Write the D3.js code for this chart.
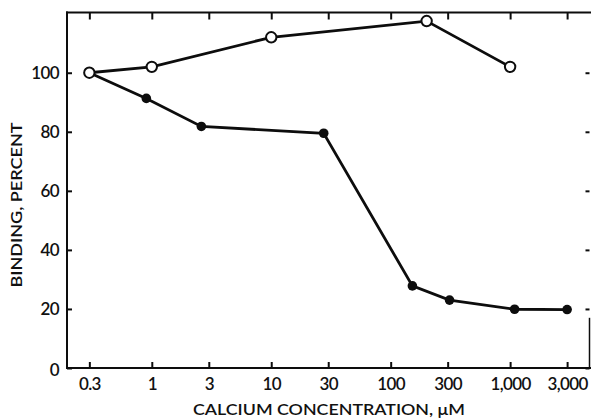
<!DOCTYPE html>
<html>
<head>
<meta charset="utf-8">
<script src="https://cdn.jsdelivr.net/npm/d3@7"></script>
<style>
  html, body { margin: 0; padding: 0; background: #fff; }
  svg text { font-family: Lato, "Noto Sans", sans-serif; fill: #111; font-weight: 600; }
</style>
</head>
<body>
<svg id="chart" width="591" height="419"></svg>
<script>
// Calcium concentration (µM) vs. binding (percent of control)
const openConc   = [0.3, 1, 10, 200, 1000];
const openBind   = [100, 102, 112, 117.5, 102];
const filledConc = [0.3, 0.9, 2.6, 27.5, 152, 311, 1090, 3000];
const filledBind = [100, 91.3, 81.8, 79.5, 27.8, 23, 19.9, 19.8];

const xTickValues = [0.3, 1, 3, 10, 30, 100, 300, 1000, 3000];
const xTickLabels = ["0.3", "1", "3", "10", "30", "100", "300", "1,000", "3,000"];
const yTickValues = [0, 20, 40, 60, 80, 100];

const svg = d3.select("#chart");
const plotLeft = 67, plotRight = 589.5, plotTop = 12.5, plotBottom = 368;

const x = d3.scaleLog().domain([0.195, 4620]).range([plotLeft, plotRight]);
const y = d3.scaleLinear().domain([0, 120.4]).range([plotBottom, plotTop]);

const ink = "#0d0d0d";

// frame with inward ticks on all four sides
const axBottom = svg.append("g").attr("transform", `translate(0,${plotBottom})`)
  .call(d3.axisBottom(x).tickValues(xTickValues).tickFormat((d, i) => xTickLabels[i])
    .tickSizeInner(-6).tickSizeOuter(0).tickPadding(10));
const axTop = svg.append("g").attr("transform", `translate(0,${plotTop})`)
  .call(d3.axisTop(x).tickValues(xTickValues).tickFormat("").tickSizeInner(-7).tickSizeOuter(0));
const axLeft = svg.append("g").attr("transform", `translate(${plotLeft},0)`)
  .call(d3.axisLeft(y).tickValues(yTickValues).tickFormat(d3.format("d"))
    .tickSizeInner(-5).tickSizeOuter(0).tickPadding(8));
const axRight = svg.append("g").attr("transform", `translate(${plotRight},0)`)
  .call(d3.axisRight(y).tickValues(yTickValues).tickFormat("").tickSizeInner(-4).tickSizeOuter(0));

[axBottom, axTop, axLeft, axRight].forEach(g => {
  g.selectAll(".domain").attr("stroke", ink).attr("stroke-width", 2);
  g.selectAll(".tick line").attr("stroke", ink).attr("stroke-width", 2);
  g.selectAll("text").attr("fill", ink);
});
axBottom.selectAll("text").attr("font-size", 17).attr("letter-spacing", -0.6);
axBottom.selectAll(".domain").attr("d", `M${plotLeft - 1},0H${plotRight + 2}`);
axTop.selectAll(".domain").attr("d", `M${plotLeft - 1},0H${plotRight + 2}`);
axLeft.selectAll(".domain").attr("d", `M0,${plotTop - 1}V${plotBottom + 1}`);
axLeft.selectAll("text").attr("font-size", 17).attr("letter-spacing", -0.6);
axLeft.selectAll(".tick").filter(d => d === 0).select("text").attr("dy", "0.45em");
// the right edge line only survives near the bottom of the frame
axRight.selectAll(".domain").attr("d", `M0,${y(17)}V${plotBottom}`).attr("stroke-width", 1.5);

// series lines
const line = d3.line().x(d => x(d[0])).y(d => y(d[1]));
const openPts = openConc.map((c, i) => [c, openBind[i]]);
const filledPts = filledConc.map((c, i) => [c, filledBind[i]]);

svg.append("path").datum(filledPts).attr("d", line)
  .attr("fill", "none").attr("stroke", ink).attr("stroke-width", 2.8);
svg.append("path").datum(openPts).attr("d", line)
  .attr("fill", "none").attr("stroke", ink).attr("stroke-width", 2.8);

svg.selectAll("circle.filled").data(filledPts).join("circle")
  .attr("class", "filled")
  .attr("cx", d => x(d[0])).attr("cy", d => y(d[1])).attr("r", 4.8)
  .attr("fill", ink);
svg.selectAll("circle.open").data(openPts).join("circle")
  .attr("class", "open")
  .attr("cx", d => x(d[0])).attr("cy", d => y(d[1])).attr("r", 5.2)
  .attr("fill", "#fff").attr("stroke", ink).attr("stroke-width", 2);

// axis titles
svg.append("text")
  .attr("x", 329).attr("y", 415).attr("text-anchor", "middle")
  .attr("font-size", 16).attr("textLength", 272).attr("lengthAdjust", "spacingAndGlyphs")
  .text("CALCIUM CONCENTRATION, \u03BCM");
svg.append("text")
  .attr("transform", "translate(22,205) rotate(-90)").attr("text-anchor", "middle")
  .attr("font-size", 15.5).attr("textLength", 165).attr("lengthAdjust", "spacingAndGlyphs")
  .text("BINDING, PERCENT");
</script>
</body>
</html>
